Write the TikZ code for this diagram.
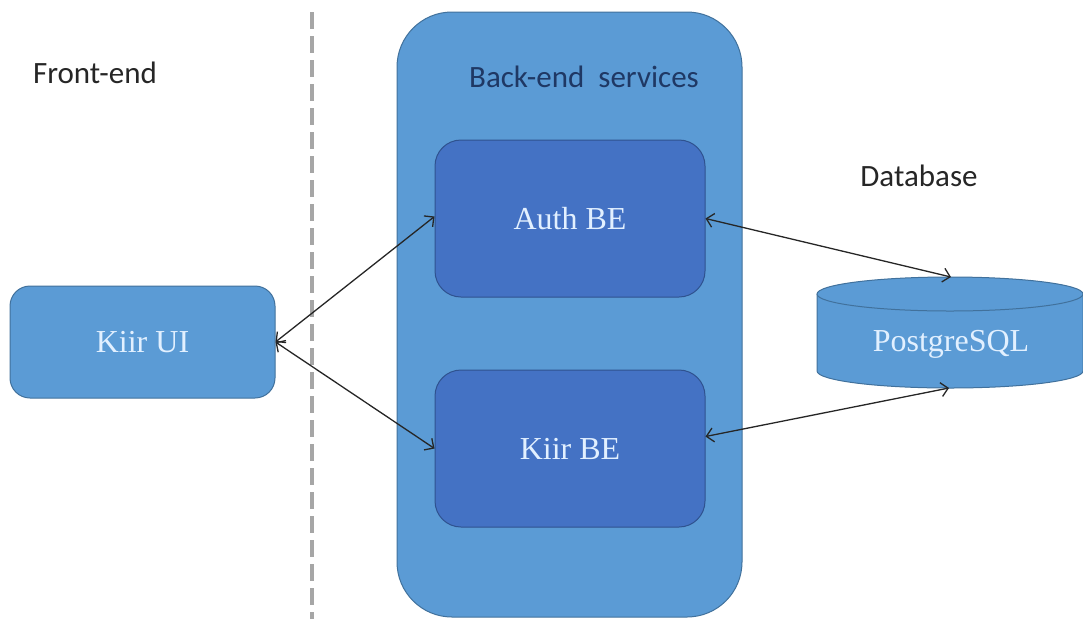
\documentclass[tikz,border=0pt]{standalone}
\usepackage{fontspec}
\setmainfont{Liberation Serif}
\newfontfamily\labelfont{Carlito}
\usetikzlibrary{arrows.meta}
\definecolor{outerfill}{HTML}{5B9BD5}
\definecolor{outerline}{HTML}{41719C}
\definecolor{innerfill}{HTML}{4472C4}
\definecolor{innerline}{HTML}{2F528F}
\definecolor{boxtext}{HTML}{E2F0FF}
\definecolor{navy}{HTML}{1F3864}
\definecolor{dark}{HTML}{262626}
\definecolor{sepgray}{HTML}{A6A6A6}
\tikzset{
  box/.style={draw=#1, line width=1pt, inner sep=0pt, text=boxtext,
    font=\fontsize{32}{37}\selectfont},
  outerbox/.style={box=outerline, fill=outerfill},
  innerbox/.style={box=innerline, fill=innerfill},
  caption/.style={font=\labelfont\fontsize{31}{36}\selectfont, inner sep=0pt},
  link/.style={line width=1.3pt, black!85, {Straight Barb[length=7pt,width=14pt]}-{Straight Barb[length=7pt,width=14pt]}},
}
\begin{document}
\begin{tikzpicture}[x=1pt,y=-1pt]
\useasboundingbox (0,0) rectangle (1083,619);

% divider between front-end and back-end
\draw[sepgray, line width=4pt, dash pattern=on 17pt off 7pt] (312,12) -- (312,619);

% back-end container
\node[outerbox, rounded corners=55pt, minimum width=345pt, minimum height=605pt] (backend) at (569.5,314.5) {};
\node[caption, text=navy] (betitle) at (584,77) {Back-end\ \ services};

% services
\node[innerbox, rounded corners=26pt, minimum width=270pt, minimum height=157pt] (auth) at (570,218.5) {Auth BE};
\node[innerbox, rounded corners=26pt, minimum width=270pt, minimum height=157pt] (kiir) at (570,448.5) {Kiir BE};

% front-end
\node[caption, text=dark] (fetitle) at (95,73) {Front-end};
\node[outerbox, rounded corners=20pt, minimum width=265pt, minimum height=112pt] (ui) at (142.5,342) {Kiir UI};

% database cylinder
\node[caption, text=dark] (dbtitle) at (919,176) {Database};
\fill[outerfill] (817,294) -- (817,371) arc[start angle=180, end angle=360, x radius=133pt, y radius=17pt] -- (1083,294) -- cycle;
\draw[outerline, line width=1pt] (817,294) -- (817,371) arc[start angle=180, end angle=360, x radius=133pt, y radius=17pt] -- (1083,294);
\draw[outerline, line width=1pt, fill=outerfill] (950,294) ellipse[x radius=133pt, y radius=17pt];
\node[box, draw=none] (db) at (951,344) {PostgreSQL};
\coordinate (dbtop) at (951,277);
\coordinate (dbbot) at (949,388);

% connections
\draw[link] (ui.east) -- ([yshift=2pt]auth.west);
\draw[link] (ui.east) -- (kiir.west);
\draw[link] (auth.east) -- (dbtop);
\draw[link] ([yshift=12pt]kiir.east) -- (dbbot);
\end{tikzpicture}
\end{document}
